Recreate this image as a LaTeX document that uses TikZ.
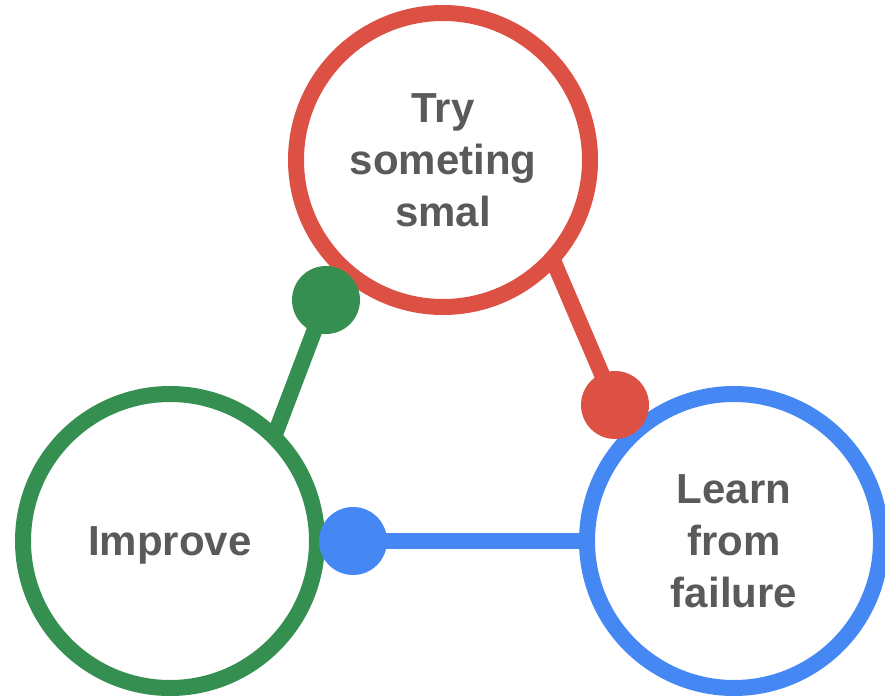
\documentclass[tikz,border=0pt]{standalone}
\usepackage{fontspec}
\setmainfont{Liberation Sans}
\definecolor{cred}{HTML}{DD5044}
\definecolor{cgreen}{HTML}{348F50}
\definecolor{cblue}{HTML}{4587F3}
\definecolor{ctext}{HTML}{5A5A5A}
\tikzset{
  ring/.style={circle, draw=#1, line width=16pt, minimum size=294pt,
    inner sep=0pt, outer sep=0pt, align=center, text=ctext,
    font=\fontsize{42}{52}\selectfont\bfseries},
  knob/.style={circle, fill=#1, minimum size=68pt, inner sep=0pt, outer sep=0pt},
  link/.style={draw=#1, line width=16pt}
}
\begin{document}
\begin{tikzpicture}[x=1pt, y=-1pt]
  \useasboundingbox (0,0) rectangle (885,700);

  % the three stages of the cycle
  \node[ring=cred]   (try)   at (443,160) {Try\\someting\\smal};
  \node[ring=cgreen, text depth=0pt] (improve) at (170,541) {Improve};
  \node[ring=cblue]  (learn) at (734,541) {Learn\\from\\failure};

  % connector end points
  \node[knob=cred, fill=none]   (rdot) at (615,405) {};
  \node[knob=cgreen, fill=none] (gdot) at (326,300) {};
  \node[knob=cblue, fill=none]  (bdot) at (353,541) {};

  % connectors
  \path[link=cred]   (try.-42.5) -- (rdot.center);
  \path[link=cgreen] (improve.45) -- (gdot.center);
  \path[link=cblue]  (learn.180) -- (bdot.center);

  % round ends on top of the rings
  \fill[cred]   (rdot) circle[radius=34pt];
  \fill[cgreen] (gdot) circle[radius=34pt];
  \fill[cblue]  (bdot) circle[radius=34pt];
\end{tikzpicture}
\end{document}
